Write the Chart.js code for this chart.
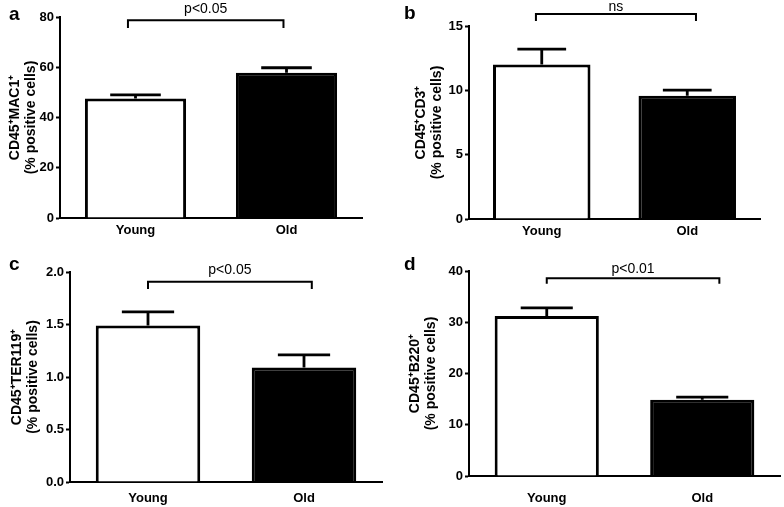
<!DOCTYPE html>
<html>
<head>
<meta charset="utf-8">
<script src="https://cdn.jsdelivr.net/npm/chart.js@4.4.1/dist/chart.umd.min.js"></script>
<style>
  html, body { margin: 0; padding: 0; background: #fff; }
  #fig { position: relative; width: 784px; height: 507px; overflow: hidden; }
  #fig canvas { position: absolute; }
</style>
</head>
<body>
<div id="fig"></div>
<script>
  // categories
  var GROUPS = ['Young', 'Old'];
  var LETTERS = ['a', 'b', 'c', 'd'];
  var Y_TITLES = [
    ['CD45\u207AMAC1\u207A', '(% positive cells)'],
    ['CD45\u207ACD3\u207A', '(% positive cells)'],
    ['CD45\u207ATER119\u207A', '(% positive cells)'],
    ['CD45\u207AB220\u207A', '(% positive cells)']
  ];

  // series values (mean + SEM)
  var youngMean = [47.6, 12.0, 1.49, 31.2];
  var oldMean = [57.8, 9.57, 1.09, 14.9];
  var youngSem = [1.4, 1.2, 0.13, 1.6];
  var oldSem = [2.0, 0.45, 0.12, 0.5];

  // axes
  var yMax = [80, 15, 2, 40];
  var yStep = [20, 5, 0.5, 10];
  var tickDecimals = [0, 0, 1, 0];

  // significance brackets (category positions / data units)
  var sigLabels = ['p<0.05', 'ns', 'p<0.05', 'p<0.01'];
  var bracketFrom = [-0.05, -0.04, 0.0, 0.0];
  var bracketTo = [0.98, 1.06, 1.05, 1.11];
  var bracketTop = [78.7, 15.93, 1.908, 38.6];
  var bracketTip = [75.6, 15.39, 1.838, 37.5];

  // layout of the four panels (pixels)
  var PANELS = [
    { left: 0, top: 0, w: 392, h: 250, yWidth: 60, padTop: 17, padRight: 30, xHeight: 32, xPad: 5, titlePad: 7, letterX: 9, letterY: 20, labelGap: 7 },
    { left: 392, top: 0, w: 392, h: 250, yWidth: 77, padTop: 26, padRight: 24, xHeight: 31, xPad: 5, titlePad: 21, letterX: 12, letterY: 19, labelGap: 3 },
    { left: 0, top: 250, w: 392, h: 257, yWidth: 70, padTop: 22, padRight: 10, xHeight: 25, xPad: 9, titlePad: 9, letterX: 9, letterY: 20, labelGap: 7.5 },
    { left: 392, top: 250, w: 392, h: 257, yWidth: 77, padTop: 21, padRight: 4, xHeight: 31, xPad: 15, titlePad: 15, letterX: 12, letterY: 20, labelGap: 5 }
  ];

  var FONT = '"Liberation Sans", Arial, Helvetica, sans-serif';
  Chart.defaults.font.family = FONT;
  Chart.defaults.color = '#000';

  var panelMarks = {
    id: 'panelMarks',
    afterDatasetsDraw: function (chart, args, opts) {
      var ctx = chart.ctx;
      var x = chart.scales.x, y = chart.scales.y;
      var meta = chart.getDatasetMeta(0);
      var vals = chart.data.datasets[0].data;
      ctx.save();
      ctx.strokeStyle = '#000';
      ctx.lineCap = 'butt';
      // error bars (SEM, upward only)
      ctx.lineWidth = 2.8;
      meta.data.forEach(function (bar, j) {
        var yTop = y.getPixelForValue(vals[j] + opts.sem[j]);
        var half = bar.width * 0.25;
        ctx.beginPath();
        ctx.moveTo(bar.x, bar.y);
        ctx.lineTo(bar.x, yTop);
        ctx.moveTo(bar.x - half, yTop);
        ctx.lineTo(bar.x + half, yTop);
        ctx.stroke();
      });
      // significance bracket
      var x0 = x.getPixelForValue(opts.from), x1 = x.getPixelForValue(opts.to);
      var yb = y.getPixelForValue(opts.top), yt = y.getPixelForValue(opts.tip);
      ctx.lineWidth = 2;
      ctx.beginPath();
      ctx.moveTo(x0, yt);
      ctx.lineTo(x0, yb);
      ctx.lineTo(x1, yb);
      ctx.lineTo(x1, yt);
      ctx.stroke();
      ctx.fillStyle = '#000';
      ctx.font = '14px ' + FONT;
      ctx.textAlign = 'center';
      ctx.textBaseline = 'alphabetic';
      ctx.fillText(opts.label, (x0 + x1) / 2, yb - opts.gap);
      // panel letter
      ctx.font = 'bold 19px ' + FONT;
      ctx.textAlign = 'left';
      ctx.fillText(opts.letter, opts.letterX, opts.letterY);
      ctx.restore();
    }
  };

  var fig = document.getElementById('fig');

  PANELS.forEach(function (L, i) {
    var cv = document.createElement('canvas');
    cv.width = L.w;
    cv.height = L.h;
    cv.style.left = L.left + 'px';
    cv.style.top = L.top + 'px';
    cv.style.width = L.w + 'px';
    cv.style.height = L.h + 'px';
    fig.appendChild(cv);

    new Chart(cv.getContext('2d'), {
      type: 'bar',
      data: {
        labels: GROUPS,
        datasets: [{
          data: [youngMean[i], oldMean[i]],
          backgroundColor: ['#ffffff', '#000000'],
          borderColor: '#000',
          borderWidth: 3,
          borderSkipped: 'bottom',
          categoryPercentage: 1,
          barPercentage: 0.67
        }]
      },
      options: {
        responsive: false,
        animation: false,
        layout: { padding: { left: 0, top: L.padTop, right: L.padRight, bottom: 0 } },
        plugins: {
          legend: { display: false },
          tooltip: { enabled: false },
          panelMarks: {
            sem: [youngSem[i], oldSem[i]],
            from: bracketFrom[i], to: bracketTo[i],
            top: bracketTop[i], tip: bracketTip[i],
            label: sigLabels[i], gap: L.labelGap,
            letter: LETTERS[i], letterX: L.letterX, letterY: L.letterY
          }
        },
        scales: {
          x: {
            grid: { display: false, drawTicks: false, tickLength: 0 },
            border: { display: true, color: '#000', width: 2 },
            ticks: { color: '#000', padding: L.xPad, font: { size: 13, weight: 'bold' } },
            afterFit: function (s) { s.height = L.xHeight; }
          },
          y: {
            min: 0,
            max: yMax[i],
            grid: { drawOnChartArea: false, drawTicks: true, tickLength: 4, tickColor: '#000', tickWidth: 2 },
            border: { display: true, color: '#000', width: 2 },
            ticks: {
              stepSize: yStep[i],
              color: '#000',
              padding: 2,
              font: { size: 13, weight: 'bold' },
              callback: function (v) { return Number(v).toFixed(tickDecimals[i]); }
            },
            title: {
              display: true,
              text: Y_TITLES[i],
              color: '#000',
              font: { size: 14, weight: 'bold', lineHeight: 1.15 },
              padding: { top: L.titlePad, bottom: 0 }
            },
            afterFit: function (s) { s.width = L.yWidth; }
          }
        }
      },
      plugins: [panelMarks]
    });
  });
</script>
</body>
</html>
